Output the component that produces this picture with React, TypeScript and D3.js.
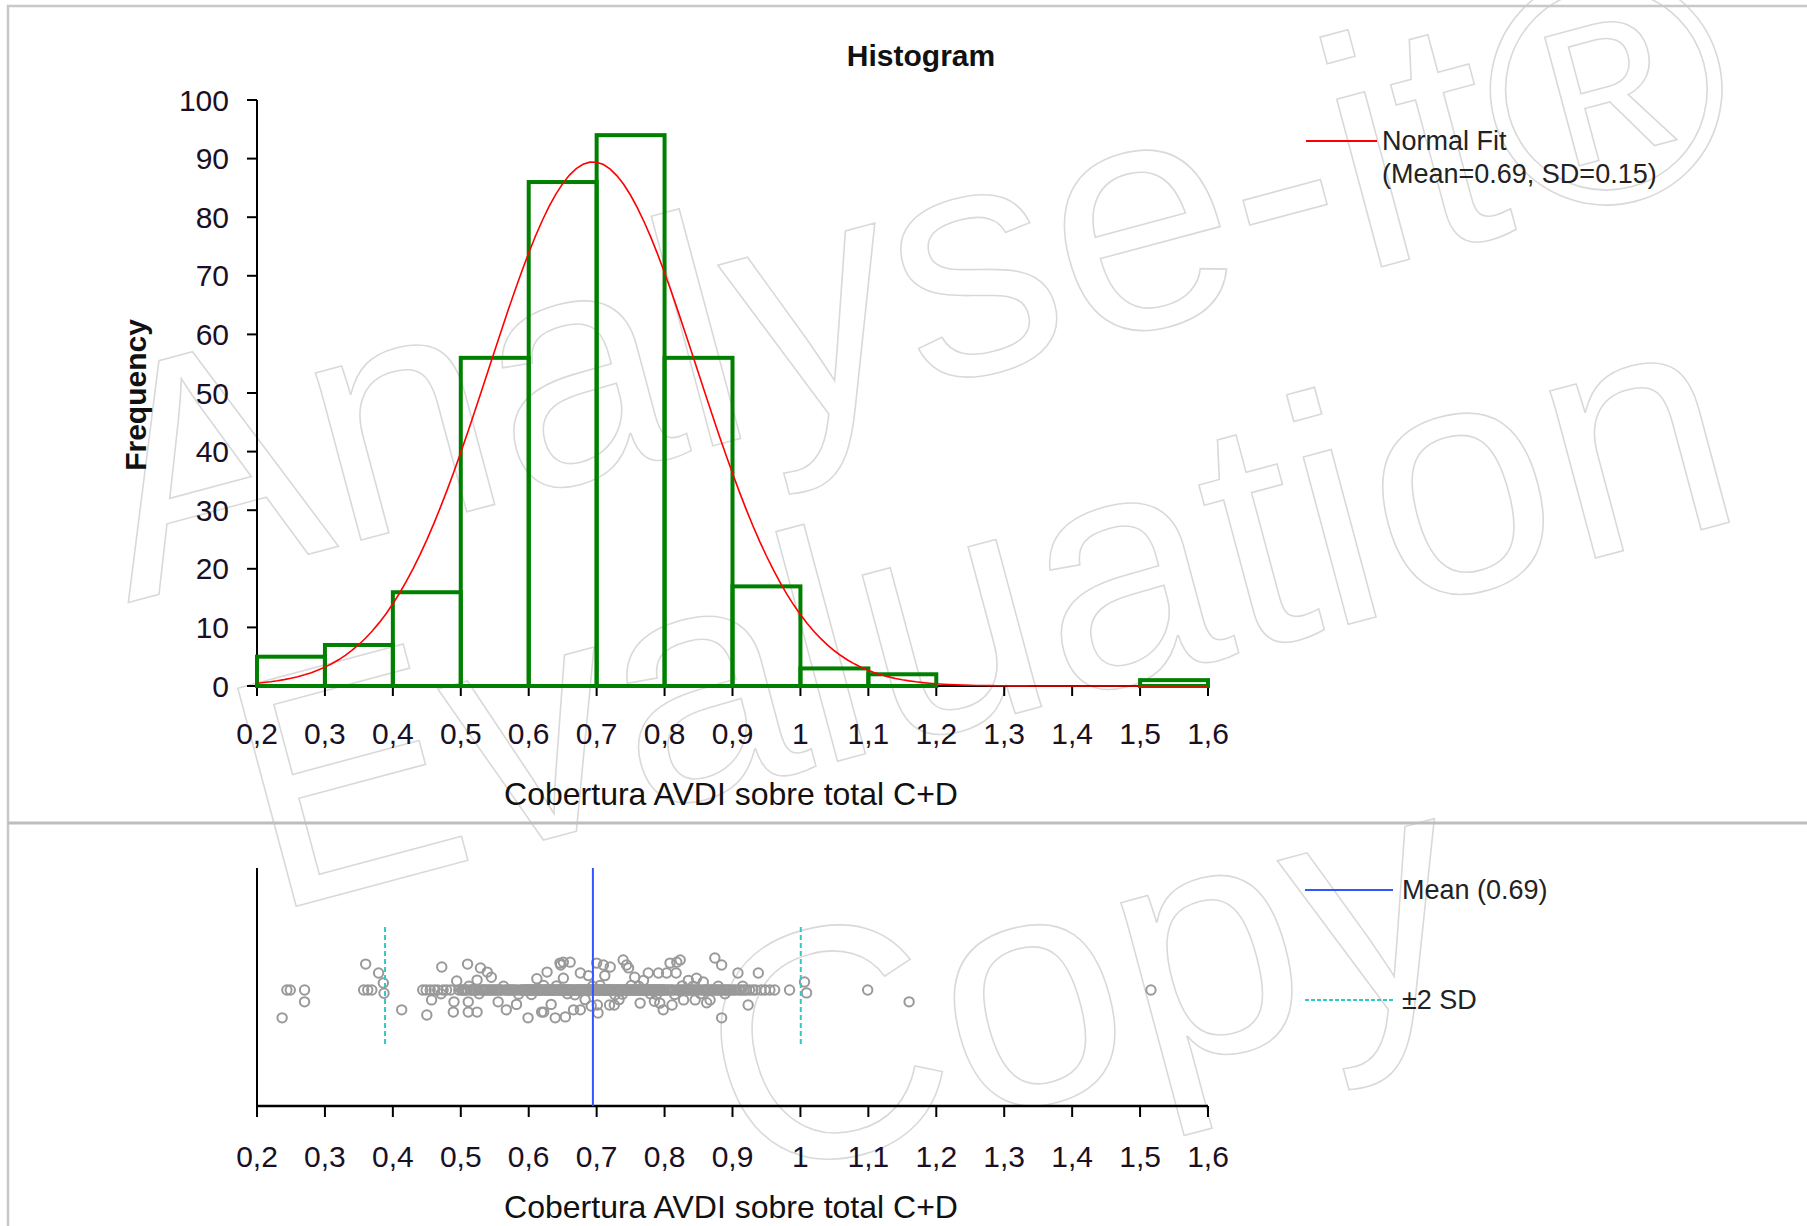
import React from 'react';
import * as d3 from 'd3';

// ---------- data ----------
const BIN_LOWER = [0.2, 0.3, 0.4, 0.5, 0.6, 0.7, 0.8, 0.9, 1.0, 1.1, 1.2, 1.3, 1.4, 1.5];
const BIN_UPPER = [0.3, 0.4, 0.5, 0.6, 0.7, 0.8, 0.9, 1.0, 1.1, 1.2, 1.3, 1.4, 1.5, 1.6];
const BIN_COUNTS = [5, 7, 16, 56, 86, 94, 56, 17, 3, 2, 0, 0, 0, 1];

const FIT_MEAN = 0.6945;
const FIT_SD = 0.153;

const X_TICKS = [0.2, 0.3, 0.4, 0.5, 0.6, 0.7, 0.8, 0.9, 1.0, 1.1, 1.2, 1.3, 1.4, 1.5, 1.6];
const X_TICK_LABELS = ['0,2', '0,3', '0,4', '0,5', '0,6', '0,7', '0,8', '0,9', '1', '1,1', '1,2', '1,3', '1,4', '1,5', '1,6'];
const Y_TICKS = [0, 10, 20, 30, 40, 50, 60, 70, 80, 90, 100];

const TITLE = 'Histogram';
const X_LABEL = 'Cobertura AVDI sobre total C+D';
const Y_LABEL = 'Frequency';
const FIT_LEGEND = ['Normal Fit', '(Mean=0.69, SD=0.15)'];
const MEAN_LEGEND = 'Mean (0.69)';
const SD_LEGEND = '±2 SD';
const WATERMARK = ['Analyse-it®', 'Evaluation', 'Copy'];

// strip points off the centre row: [value, vertical jitter (-1..1)]
const STRIP_SPREAD: [number, number][] = [
  [0.237, 0.87], [0.270, 0.37],
  [0.360, -0.81], [0.379, -0.53], [0.386, -0.22], [0.387, 0.1],
  [0.413, 0.62], [0.450, 0.78], [0.457, 0.31], [0.472, -0.72], [0.494, -0.28], [0.490, 0.37], [0.489, 0.69],
  [0.510, -0.81], [0.529, -0.69], [0.539, -0.56], [0.511, 0.37], [0.511, 0.69], [0.524, 0.69], [0.524, -0.31],
  [0.555, 0.37], [0.567, 0.62], [0.599, 0.87], [0.545, -0.4], [0.582, 0.45],
  [0.619, 0.69], [0.639, 0.87], [0.627, -0.56], [0.646, -0.84], [0.651, -0.87], [0.661, -0.87], [0.647, -0.78],
  [0.676, -0.53], [0.651, -0.37], [0.622, 0.69], [0.654, 0.84], [0.666, 0.62], [0.676, 0.62], [0.612, -0.35],
  [0.633, 0.45], [0.688, -0.45], [0.692, 0.5], [0.683, 0.3],
  [0.700, -0.84], [0.710, -0.78], [0.720, -0.72], [0.702, 0.72], [0.701, 0.47], [0.719, 0.47], [0.726, 0.47],
  [0.739, -0.94], [0.744, -0.78], [0.747, -0.69], [0.764, 0.41], [0.776, -0.53], [0.791, -0.53], [0.793, 0.41],
  [0.798, 0.62], [0.712, -0.45], [0.733, 0.3], [0.756, -0.4], [0.769, -0.3], [0.785, 0.35],
  [0.803, -0.53], [0.808, -0.84], [0.818, -0.87], [0.823, -0.94], [0.817, -0.53], [0.811, 0.47], [0.828, 0.31],
  [0.845, 0.31], [0.847, -0.37], [0.857, -0.25], [0.867, 0.31], [0.874, -1.0], [0.884, -0.78], [0.884, 0.87],
  [0.835, -0.3], [0.862, 0.4],
  [0.908, -0.53], [0.923, 0.47], [0.938, -0.53],
  [1.006, -0.25], [1.009, 0.09], [1.160, 0.37],
  [0.527, 0.12], [0.563, -0.12], [0.604, 0.14], [0.641, -0.13], [0.668, 0.15], [0.705, -0.14], [0.738, 0.13],
  [0.762, -0.12], [0.788, 0.14], [0.826, -0.13], [0.853, 0.12], [0.879, -0.12], [0.512, -0.12], [0.585, 0.13],
  [0.622, -0.14], [0.657, 0.12], [0.694, -0.12], [0.727, 0.15], [0.751, -0.14], [0.779, 0.12], [0.815, 0.14],
  [0.842, -0.12], [0.889, 0.12], [0.471, 0.12], [0.915, -0.12],
];

// strip points on the centre row
const STRIP_CENTER = [
  0.244, 0.249, 0.270,
  0.357, 0.363, 0.369,
  0.444, 0.449, 0.455, 0.461, 0.466, 0.474, 0.479, 0.485, 0.497,
  0.501, 0.503, 0.505, 0.507, 0.509, 0.514, 0.516, 0.518, 0.520,
  0.522, 0.525, 0.530, 0.532, 0.534, 0.536, 0.538, 0.541, 0.543,
  0.546, 0.548, 0.551, 0.553, 0.556, 0.558, 0.560, 0.565, 0.568,
  0.570, 0.572, 0.575, 0.577, 0.580, 0.583, 0.588, 0.590, 0.592,
  0.594, 0.596, 0.597, 0.598,
  0.600, 0.602, 0.603, 0.605, 0.606, 0.608, 0.609, 0.611, 0.613, 0.614,
  0.616, 0.617, 0.619, 0.620, 0.623, 0.625, 0.626, 0.628, 0.629,
  0.631, 0.632, 0.634, 0.635, 0.637, 0.638, 0.640, 0.643, 0.644,
  0.646, 0.647, 0.649, 0.650, 0.652, 0.653, 0.655, 0.656, 0.658, 0.659,
  0.661, 0.662, 0.664, 0.665, 0.667, 0.670, 0.671, 0.673, 0.674,
  0.676, 0.677, 0.679, 0.680, 0.682, 0.684, 0.685, 0.687, 0.688, 0.690,
  0.691, 0.693, 0.695, 0.696, 0.697, 0.698, 0.699,
  0.700, 0.702, 0.703, 0.704, 0.706, 0.707, 0.708, 0.710, 0.711, 0.713,
  0.714, 0.715, 0.717, 0.718, 0.719, 0.721, 0.722, 0.723, 0.725, 0.726,
  0.729, 0.730, 0.731, 0.733, 0.734, 0.735, 0.737, 0.739,
  0.741, 0.742, 0.743, 0.745, 0.746, 0.747, 0.749, 0.750, 0.753,
  0.754, 0.755, 0.757, 0.758, 0.759, 0.761, 0.763, 0.765, 0.766,
  0.767, 0.769, 0.770, 0.771, 0.773, 0.774, 0.775, 0.777, 0.778,
  0.781, 0.782, 0.783, 0.785, 0.786, 0.787, 0.789, 0.790, 0.791, 0.793,
  0.794, 0.795, 0.797, 0.798,
  0.800, 0.803, 0.805, 0.808, 0.810, 0.813, 0.818, 0.820, 0.823,
  0.825, 0.828, 0.830, 0.833, 0.835, 0.838, 0.840, 0.843, 0.845, 0.848,
  0.850, 0.855, 0.858, 0.860, 0.863, 0.865, 0.868, 0.870, 0.873,
  0.875, 0.878, 0.880, 0.883, 0.885, 0.888, 0.890, 0.893, 0.895, 0.898,
  0.902, 0.905, 0.910, 0.913, 0.917, 0.920, 0.925, 0.930, 0.934, 0.942,
  0.948, 0.955, 0.962, 0.984,
  1.099, 1.516,
];

const FONT = "'Liberation Sans', Arial, sans-serif";

export default function App() {
  const W = 1807;
  const H = 1226;

  const x = d3.scaleLinear().domain([0.2, 1.6]).range([257, 1208]);
  const y = d3.scaleLinear().domain([0, 100]).range([686, 100]);
  const jitter = d3.scaleLinear().domain([-1, 1]).range([-32, 32]);
  const stripY = 990;

  const n = d3.sum(BIN_COUNTS);
  const binWidth = BIN_UPPER[0] - BIN_LOWER[0];
  const pdf = (v: number) =>
    Math.exp(-0.5 * ((v - FIT_MEAN) / FIT_SD) ** 2) / (FIT_SD * Math.sqrt(2 * Math.PI));
  const curve = d3.range(0.2, 1.6001, 0.01).map((v) => [v, n * binWidth * pdf(v)] as [number, number]);
  const fitLine = d3
    .line<[number, number]>()
    .x((d) => x(d[0]))
    .y((d) => y(d[1]));

  const sdLow = FIT_MEAN - 2 * FIT_SD;
  const sdHigh = FIT_MEAN + 2 * FIT_SD;

  const tickColor = '#1a1025';

  return (
    <svg
      width={W}
      height={H}
      style={{ position: 'absolute', left: 0, top: 0, background: '#fff' }}
      fontFamily={FONT}
    >
      <rect x={0} y={0} width={W} height={H} fill="#fff" />

      {/* watermark */}
      <g fill="none" stroke="#d9d9d9" strokeWidth={1.6} fontSize={328} textAnchor="middle">
        <text x={940} y={385} transform="rotate(-15 940 385)">{WATERMARK[0]}</text>
        <text x={1010} y={715} transform="rotate(-15 1010 715)">{WATERMARK[1]}</text>
        <text x={1110} y={1085} transform="rotate(-15 1110 1085)">{WATERMARK[2]}</text>
      </g>

      {/* panel borders */}
      <rect x={8} y={6} width={W + 10} height={H + 10} fill="none" stroke="#c8c8c8" strokeWidth={2.5} />
      <line x1={8} x2={W} y1={823} y2={823} stroke="#bdbdbd" strokeWidth={3} />

      {/* ---------- histogram panel ---------- */}
      <text x={921} y={55} dy="0.35em" fontSize={30} fontWeight="bold" textAnchor="middle" fill="#111">
        {TITLE}
      </text>
      <text
        transform="translate(135,395) rotate(-90)"
        dy="0.35em"
        fontSize={30}
        fontWeight="bold"
        textAnchor="middle"
        fill="#111"
      >
        {Y_LABEL}
      </text>

      {/* y axis */}
      <line x1={x(0.2)} x2={x(0.2)} y1={y(100)} y2={y(0)} stroke="#000" strokeWidth={2} />
      {Y_TICKS.map((t) => (
        <g key={'yt' + t}>
          <line x1={x(0.2) - 10} x2={x(0.2)} y1={y(t)} y2={y(t)} stroke="#000" strokeWidth={2} />
          <text x={229} y={y(t)} dy="0.35em" fontSize={30} textAnchor="end" fill={tickColor}>
            {t}
          </text>
        </g>
      ))}

      {/* x axis */}
      <line x1={x(0.2)} x2={x(1.6)} y1={y(0)} y2={y(0)} stroke="#000" strokeWidth={2} />
      {X_TICKS.map((t, i) => (
        <g key={'xt' + i}>
          <line x1={x(t)} x2={x(t)} y1={y(0)} y2={y(0) + 10} stroke="#000" strokeWidth={2} />
          <text x={x(t)} y={733} dy="0.35em" fontSize={30} textAnchor="middle" fill={tickColor}>
            {X_TICK_LABELS[i]}
          </text>
        </g>
      ))}
      <text x={731} y={794} dy="0.35em" fontSize={32} textAnchor="middle" fill="#111">
        {X_LABEL}
      </text>

      {/* bars */}
      {BIN_COUNTS.map((c, i) => (
        <rect
          key={'bar' + i}
          x={x(BIN_LOWER[i])}
          y={y(c)}
          width={x(BIN_UPPER[i]) - x(BIN_LOWER[i])}
          height={y(0) - y(c)}
          fill="none"
          stroke="#008000"
          strokeWidth={4}
        />
      ))}

      {/* normal fit */}
      <path d={fitLine(curve) || ''} fill="none" stroke="#ff0000" strokeWidth={1.6} />

      {/* legend top */}
      <line x1={1306} x2={1377} y1={141} y2={141} stroke="#ff0000" strokeWidth={2} />
      <text x={1382} y={141} dy="0.35em" fontSize={27} fill="#222">
        {FIT_LEGEND[0]}
      </text>
      <text x={1382} y={174} dy="0.35em" fontSize={27} fill="#222">
        {FIT_LEGEND[1]}
      </text>

      {/* ---------- strip panel ---------- */}
      <line x1={x(0.2)} x2={x(0.2)} y1={868} y2={1106} stroke="#000" strokeWidth={2} />
      <line x1={x(0.2)} x2={x(1.6)} y1={1106} y2={1106} stroke="#000" strokeWidth={2.5} />
      {X_TICKS.map((t, i) => (
        <g key={'bxt' + i}>
          <line x1={x(t)} x2={x(t)} y1={1106} y2={1117} stroke="#000" strokeWidth={2} />
          <text x={x(t)} y={1156} dy="0.35em" fontSize={30} textAnchor="middle" fill={tickColor}>
            {X_TICK_LABELS[i]}
          </text>
        </g>
      ))}
      <text x={731} y={1207} dy="0.35em" fontSize={32} textAnchor="middle" fill="#111">
        {X_LABEL}
      </text>

      {/* points */}
      <g fill="none" stroke="#999" strokeWidth={2}>
        {STRIP_CENTER.map((v, i) => (
          <circle key={'c' + i} cx={x(v)} cy={stripY + jitter(0)} r={4.7} />
        ))}
        {STRIP_SPREAD.map((p, i) => (
          <circle key={'s' + i} cx={x(p[0])} cy={stripY + jitter(p[1])} r={4.7} />
        ))}
      </g>

      {/* mean and sd lines */}
      <line x1={x(FIT_MEAN)} x2={x(FIT_MEAN)} y1={868} y2={1106} stroke="#3355ff" strokeWidth={2} />
      <line x1={x(sdLow)} x2={x(sdLow)} y1={927} y2={1047} stroke="#33c8c8" strokeWidth={2} strokeDasharray="5,3" />
      <line x1={x(sdHigh)} x2={x(sdHigh)} y1={927} y2={1047} stroke="#33c8c8" strokeWidth={2} strokeDasharray="5,3" />

      {/* legend bottom */}
      <line x1={1305} x2={1393} y1={890} y2={890} stroke="#3355ff" strokeWidth={2} />
      <text x={1402} y={890} dy="0.35em" fontSize={27} fill="#222">
        {MEAN_LEGEND}
      </text>
      <line x1={1305} x2={1393} y1={1000} y2={1000} stroke="#33c8c8" strokeWidth={2} strokeDasharray="4,2" />
      <text x={1402} y={1000} dy="0.35em" fontSize={27} fill="#222">
        {SD_LEGEND}
      </text>
    </svg>
  );
}
